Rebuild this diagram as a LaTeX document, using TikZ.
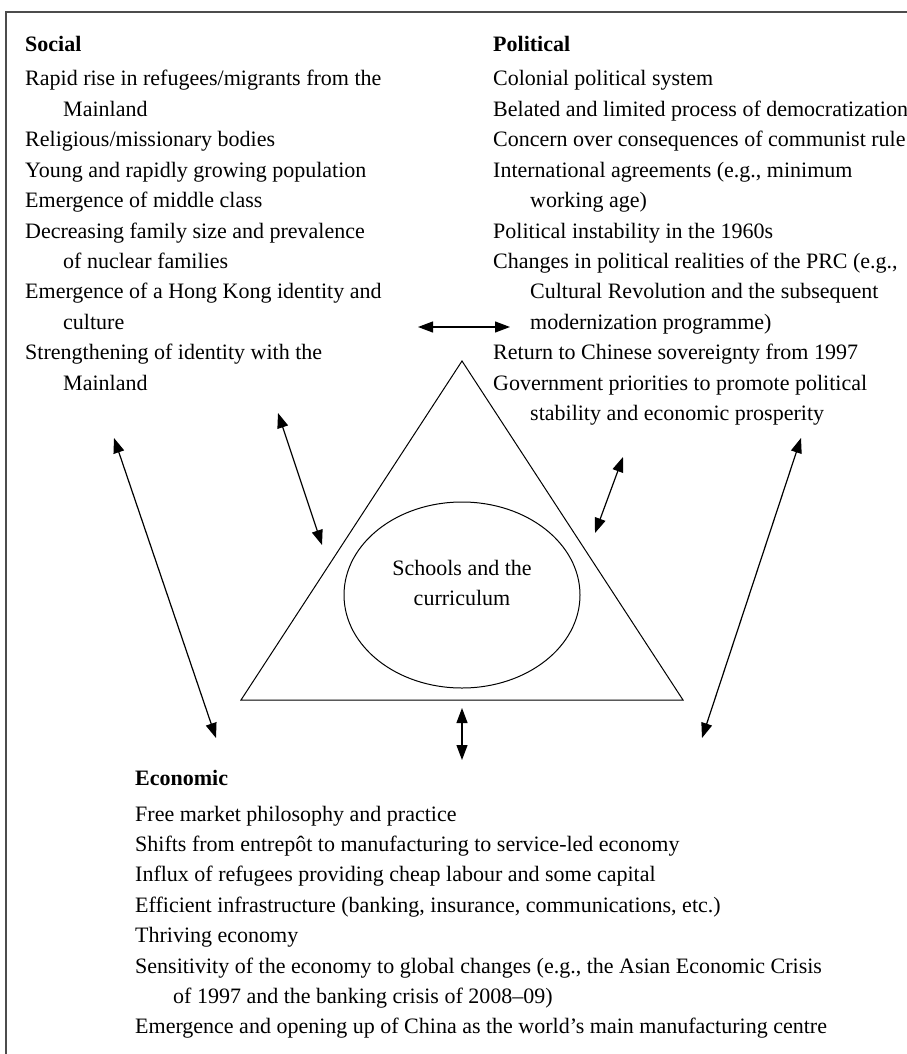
\documentclass[tikz,border=0pt]{standalone}
\usepackage{fontspec}
\setmainfont{Liberation Serif}
\usetikzlibrary{arrows.meta,shapes.geometric}
\begin{document}
\begin{tikzpicture}[x=1pt,y=-1pt,
  txt/.style={anchor=base west, inner sep=0pt, font=\fontsize{22}{26}\selectfont},
  hd/.style={anchor=base west, inner sep=0pt, font=\fontsize{22}{26}\selectfont\bfseries},
  dbl/.style={{Triangle[length=15pt,width=11pt]}-{Triangle[length=15pt,width=11pt]}, line width=1.2pt},
  shp/.style={line width=1pt}]
\useasboundingbox (0,0) rectangle (906,1054);
\coordinate (f1) at (6,1070); \coordinate (f2) at (6,12); \coordinate (f3) at (920,12);
\draw[line width=1.5pt, black!70] (f1) -- (f2) -- (f3);
% headings
\node[hd] (soc) at (25,52) {Social};
\node[hd] (pol) at (493,52) {Political};
\node[hd] (eco) at (135,785) {Economic};
% social
\foreach [count=\i] \ind/\t in {
  0/{Rapid rise in refugees/migrants from the},
  1/{Mainland},
  0/{Religious/missionary bodies},
  0/{Young and rapidly growing population},
  0/{Emergence of middle class},
  0/{Decreasing family size and prevalence},
  1/{of nuclear families},
  0/{Emergence of a Hong Kong identity and},
  1/{culture},
  0/{Strengthening of identity with the},
  1/{Mainland}}
  \node[txt] (s\i) at (25+38*\ind, 86+30.4*\i-30.4) {\t};
% political
\foreach [count=\i] \ind/\t in {
  0/{Colonial political system},
  0/{Belated and limited process of democratization},
  0/{Concern over consequences of communist rule},
  0/{International agreements (e.g., minimum},
  1/{working age)},
  0/{Political instability in the 1960s},
  0/{Changes in political realities of the PRC (e.g.,},
  1/{Cultural Revolution and the subsequent},
  1/{modernization programme)},
  0/{Return to Chinese sovereignty from 1997},
  0/{Government priorities to promote political},
  1/{stability and economic prosperity}}
  \node[txt] (p\i) at (493+37*\ind, 86+30.4*\i-30.4) {\t};
% economic
\foreach [count=\i] \ind/\t in {
  0/{Free market philosophy and practice},
  0/{Shifts from entrepôt to manufacturing to service-led economy},
  0/{Influx of refugees providing cheap labour and some capital},
  0/{Efficient infrastructure (banking, insurance, communications, etc.)},
  0/{Thriving economy},
  0/{Sensitivity of the economy to global changes (e.g., the Asian Economic Crisis},
  1/{of 1997 and the banking crisis of 2008–09)},
  0/{Emergence and opening up of China as the world’s main manufacturing centre}}
  \node[txt] (e\i) at (135+38*\ind, 821+30.4*\i-30.4) {\t};
% triangle and ellipse
\coordinate (A) at (462,361); \coordinate (B) at (241,700); \coordinate (C) at (683,700);
\draw[shp] (A) -- (B) -- (C) -- cycle;
\node[draw, shp, ellipse, minimum width=236pt, minimum height=186pt] (sc) at (462,595) {};
\node[align=center, inner sep=0pt, font=\fontsize{22}{30.4}\selectfont] (sct) at (462,583) {Schools and the\\curriculum};
% arrows
\coordinate (h1) at (418,327); \coordinate (h2) at (510,327);
\coordinate (l1) at (114,438); \coordinate (l2) at (216,738);
\coordinate (m1) at (278,413); \coordinate (m2) at (322,545);
\coordinate (n1) at (623,457); \coordinate (n2) at (595,533);
\coordinate (r1) at (801,438); \coordinate (r2) at (702,738);
\coordinate (v1) at (462,708); \coordinate (v2) at (462,760);
\draw[dbl] (h1) -- (h2);
\draw[dbl] (l1) -- (l2);
\draw[dbl] (m1) -- (m2);
\draw[dbl] (n1) -- (n2);
\draw[dbl] (r1) -- (r2);
\draw[dbl] (v1) -- (v2);
\end{tikzpicture}
\end{document}
